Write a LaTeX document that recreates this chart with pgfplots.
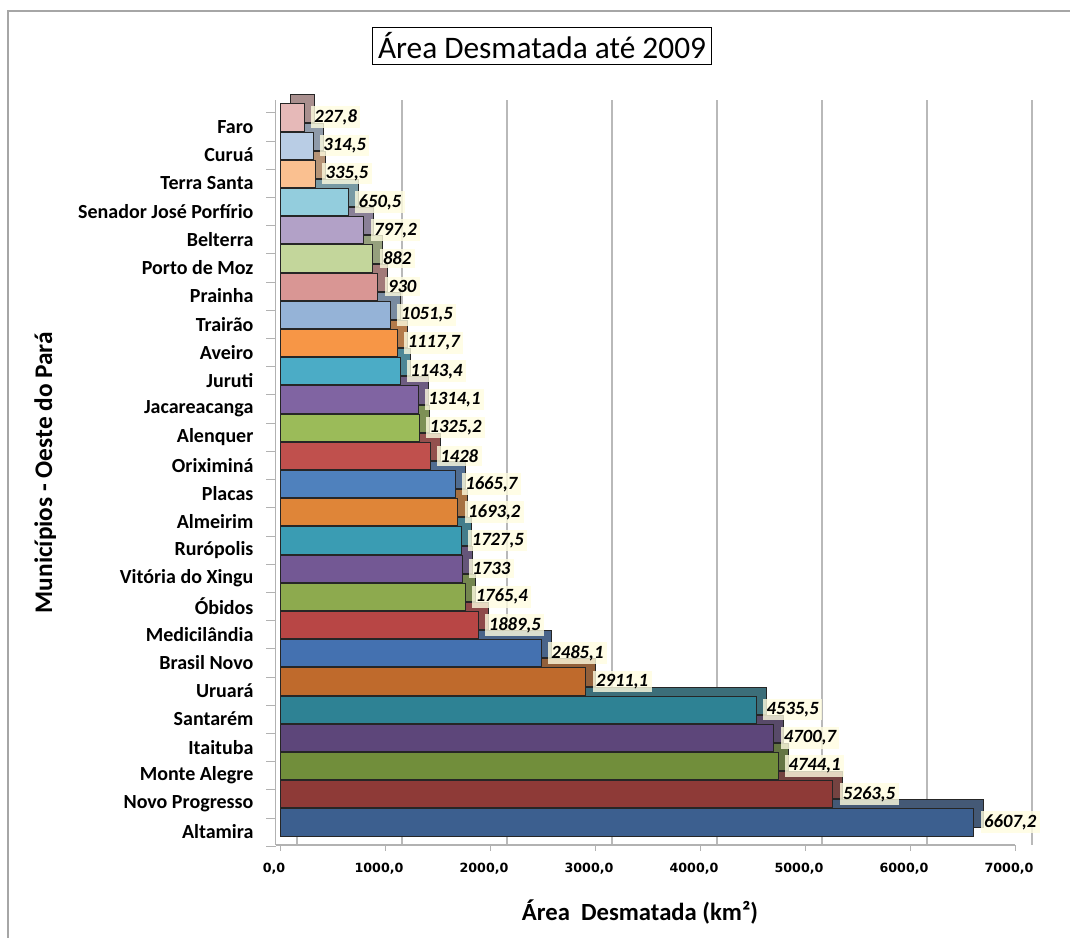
\documentclass[border=0pt]{standalone}
\usepackage{pgfplots}
\pgfplotsset{compat=1.18}
\usepackage{fontspec}
\setmainfont{Carlito}
\newfontfamily\tickfont{DejaVu Sans}

% cores das barras (de baixo para cima)
\definecolor{c0}{HTML}{3C5F8F}
\definecolor{c1}{HTML}{8E3A37}
\definecolor{c2}{HTML}{718E3B}
\definecolor{c3}{HTML}{5D467A}
\definecolor{c4}{HTML}{2E8294}
\definecolor{c5}{HTML}{BF6A2C}
\definecolor{c6}{HTML}{4471B0}
\definecolor{c7}{HTML}{B84645}
\definecolor{c8}{HTML}{8DAA4E}
\definecolor{c9}{HTML}{735894}
\definecolor{c10}{HTML}{3A9CB3}
\definecolor{c11}{HTML}{DF8538}
\definecolor{c12}{HTML}{4F81BD}
\definecolor{c13}{HTML}{C0504D}
\definecolor{c14}{HTML}{9BBB59}
\definecolor{c15}{HTML}{8064A2}
\definecolor{c16}{HTML}{4BACC6}
\definecolor{c17}{HTML}{F79646}
\definecolor{c18}{HTML}{95B3D7}
\definecolor{c19}{HTML}{D99694}
\definecolor{c20}{HTML}{C3D69B}
\definecolor{c21}{HTML}{B2A1C7}
\definecolor{c22}{HTML}{93CDDD}
\definecolor{c23}{HTML}{FAC090}
\definecolor{c24}{HTML}{B9CDE5}
\definecolor{c25}{HTML}{E6B9B8}

% fundo = copia deslocada (efeito 3D), frente = face da barra
\newcommand\fundo[3]{\addplot[fundo, fill=#1!70!gray!85!black] coordinates {(#3,#2)};}
\newcommand\frente[3]{\addplot[frente, fill=#1] coordinates {(#3,#2)};}

\begin{document}
\begin{tikzpicture}
\useasboundingbox (0,0) rectangle (802.5pt,703.5pt);
\draw[gray!70, line width=0.8pt] (6pt,-20pt) rectangle (830pt,695.25pt);
\node[draw=black, line width=0.9pt, inner sep=4pt, font=\fontsize{23.5}{26}\selectfont]
  at (406.5pt,669pt) {Área Desmatada até 2009};
\begin{axis}[
  at={(206.85pt,69.75pt)}, anchor=south west,
  scale only axis, width=554.4pt, height=558.4pt,
  xmin=-40, xmax=7000, ymin=-0.8, ymax=25.6,
  clip=false,
  axis x line*=bottom, axis y line*=left,
  axis line style={gray!60, line width=0.8pt},
  xtick={0,1000,...,7000},
  xticklabel style={font=\tickfont\bfseries\fontsize{9.5}{11}\selectfont, xshift=-4.5pt, yshift=-6pt,
    /pgf/number format/.cd, fixed, fixed zerofill, precision=1, use comma, 1000 sep={}, assume math mode=true},
  x tick style={gray!60},
  xmajorgrids, major x grid style={gray!55, line width=0.8pt, xshift=12.75pt},
  ytick={0,...,25},
  yticklabels={Altamira, Novo Progresso, Monte Alegre, Itaituba, Santarém, Uruará,
    Brasil Novo, Medicilândia, Óbidos, Vitória do Xingu, Rurópolis, Almeirim, Placas,
    Oriximiná, Alenquer, Jacareacanga, Juruti, Aveiro, Trairão, Prainha, Porto de Moz,
    Belterra, Senador José Porfírio, Terra Santa, Curuá, Faro},
  yticklabel style={font=\bfseries\fontsize{15}{17}\selectfont, yshift=-7pt, xshift=-9pt},
  major y tick style={draw=none},
  minor ytick={-0.5,0.5,...,25.5},
  minor y tick style={gray!60, yshift=-7pt},
  minor tick length=7pt,
  tick align=outside,
  xlabel={Área\ \ Desmatada (km²)},
  ylabel={Municípios - Oeste do Pará},
  every axis x label/.style={at={(axis description cs:0.4927,-0.09)}, anchor=center,
    font=\bfseries\fontsize{18.5}{20}\selectfont},
  every axis y label/.style={at={(axis description cs:-0.312,0.5)}, anchor=center, rotate=90,
    font=\bfseries\fontsize{19}{21}\selectfont},
  fundo/.style={xbar, bar width=0.96, bar shift=0pt, draw=black!85, line width=0.6pt,
    xshift=7.5pt, yshift=6.75pt},
  frente/.style={xbar, bar width=0.96, bar shift=0pt, draw=black!85, line width=0.6pt,
    nodes near coords={\pgfmathprintnumber[use comma, 1000 sep={}, assume math mode=true]{\pgfplotspointmeta}},
    point meta=x,
    every node near coord/.append style={anchor=west, xshift=5pt, text=black,
      font=\bfseries\itshape\fontsize{14}{16}\selectfont,
      fill=yellow!12, fill opacity=0.8, text opacity=1, inner sep=2.5pt}},
]
\fundo{c25}{25}{227.8}
\fundo{c24}{24}{314.5}
\fundo{c23}{23}{335.5}
\fundo{c22}{22}{650.5}
\fundo{c21}{21}{797.2}
\fundo{c20}{20}{882}
\fundo{c19}{19}{930}
\fundo{c18}{18}{1051.5}
\fundo{c17}{17}{1117.7}
\fundo{c16}{16}{1143.4}
\fundo{c15}{15}{1314.1}
\fundo{c14}{14}{1325.2}
\fundo{c13}{13}{1428}
\fundo{c12}{12}{1665.7}
\fundo{c11}{11}{1693.2}
\fundo{c10}{10}{1727.5}
\fundo{c9}{9}{1733}
\fundo{c8}{8}{1765.4}
\fundo{c7}{7}{1889.5}
\fundo{c6}{6}{2485.1}
\fundo{c5}{5}{2911.1}
\fundo{c4}{4}{4535.5}
\fundo{c3}{3}{4700.7}
\fundo{c2}{2}{4744.1}
\fundo{c1}{1}{5263.5}
\fundo{c0}{0}{6607.2}
\frente{c25}{25}{227.8}
\frente{c24}{24}{314.5}
\frente{c23}{23}{335.5}
\frente{c22}{22}{650.5}
\frente{c21}{21}{797.2}
\frente{c20}{20}{882}
\frente{c19}{19}{930}
\frente{c18}{18}{1051.5}
\frente{c17}{17}{1117.7}
\frente{c16}{16}{1143.4}
\frente{c15}{15}{1314.1}
\frente{c14}{14}{1325.2}
\frente{c13}{13}{1428}
\frente{c12}{12}{1665.7}
\frente{c11}{11}{1693.2}
\frente{c10}{10}{1727.5}
\frente{c9}{9}{1733}
\frente{c8}{8}{1765.4}
\frente{c7}{7}{1889.5}
\frente{c6}{6}{2485.1}
\frente{c5}{5}{2911.1}
\frente{c4}{4}{4535.5}
\frente{c3}{3}{4700.7}
\frente{c2}{2}{4744.1}
\frente{c1}{1}{5263.5}
\frente{c0}{0}{6607.2}
\end{axis}
\end{tikzpicture}
\end{document}
